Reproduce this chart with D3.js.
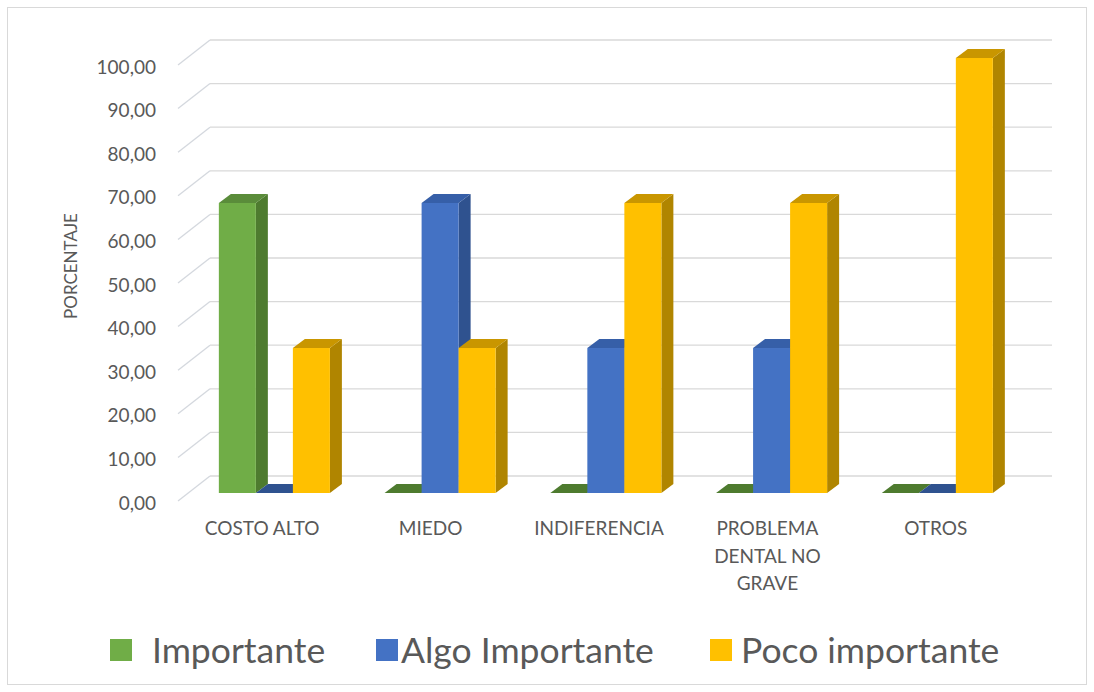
<!DOCTYPE html>
<html>
<head>
<meta charset="utf-8">
<script src="https://cdn.jsdelivr.net/npm/d3@7"></script>
<style>
  html, body { margin: 0; padding: 0; background: #ffffff; }
  svg { display: block; }
  text { font-family: Lato, "Open Sans", sans-serif; fill: #595959; }
</style>
</head>
<body>
<div id="chart"></div>
<script>
// ---- data ----
const categories = ["COSTO ALTO", "MIEDO", "INDIFERENCIA", "PROBLEMA DENTAL NO GRAVE", "OTROS"];
const seriesNames = ["Importante", "Algo Importante", "Poco importante"];
const importante = [66.67, 0, 0, 0, 0];
const algoImportante = [0, 66.67, 33.33, 33.33, 0];
const pocoImportante = [33.33, 33.33, 66.67, 66.67, 100];
const yTicks = [0, 10, 20, 30, 40, 50, 60, 70, 80, 90, 100];
const yTitle = "PORCENTAJE";

// ---- style ----
const W = 1094, H = 692;
const colors = {
  "Importante":      { front: "#70ad47", side: "#4e7b2f", top: "#5a8c3a" },
  "Algo Importante": { front: "#4472c4", side: "#2f528f", top: "#365fa8" },
  "Poco importante": { front: "#ffc000", side: "#b08500", top: "#c99600" }
};
const seriesValues = [importante, algoImportante, pocoImportante];

const svg = d3.select("#chart").append("svg").attr("width", W).attr("height", H);
svg.append("rect").attr("x", 7.5).attr("y", 7.5).attr("width", 1079).attr("height", 677)
  .attr("fill", "#fff").attr("stroke", "#d9d9d9").attr("stroke-width", 1);

// wall geometry (3D oblique)
const wallDX = 32, wallDY = 25;        // back wall offset relative to front plane
const yBack = d3.scaleLinear().domain([0, 100]).range([476, 40]);
const yFront = v => yBack(v) + wallDY;
const xFront = d3.scaleBand().domain(categories).range([178, 1020]);
const backLeft = 210, backRight = 1052;

// gridlines on back wall + side wall
const grid = svg.append("g");
grid.selectAll("line.back").data(yTicks).join("line")
  .attr("x1", backLeft).attr("x2", backRight)
  .attr("y1", d => yBack(d)).attr("y2", d => yBack(d))
  .attr("stroke", "#d9d9d9").attr("stroke-width", 1.3);
grid.selectAll("line.side").data(yTicks).join("line")
  .attr("x1", backLeft - wallDX).attr("x2", backLeft)
  .attr("y1", d => yFront(d)).attr("y2", d => yBack(d))
  .attr("stroke", "#d4d8de").attr("stroke-width", 1.3);

// y tick labels
const fmt = v => d3.format(".2f")(v).replace(".", ",");
svg.append("g").selectAll("text").data(yTicks).join("text")
  .attr("x", 156).attr("y", d => yFront(d) + 1)
  .attr("text-anchor", "end").attr("dominant-baseline", "central")
  .style("font-size", "19px")
  .text(fmt);

// y title
svg.append("text")
  .attr("transform", "translate(77,266) rotate(-90)")
  .attr("text-anchor", "middle")
  .style("font-size", "17px")
  .text(yTitle);

// bars
const xBar = d3.scaleBand().domain(categories).range([191.5, 1020.2])
  .paddingInner(0.33).paddingOuter(0.165);
const xSub = d3.scaleBand().domain(seriesNames).range([0, xBar.bandwidth()]);
const yBar = d3.scaleLinear().domain([0, 100]).range([493, 58]);
const bDX = 12, bDY = -9;

const barData = [];
categories.forEach((c, i) => {
  seriesNames.forEach((s, j) => {
    barData.push({ cat: c, series: s, value: seriesValues[j][i] });
  });
});

const bars = svg.append("g").selectAll("g").data(barData).join("g");
bars.each(function(d) {
  const g = d3.select(this);
  const x0 = xBar(d.cat) + xSub(d.series);
  const x1 = x0 + xSub.bandwidth();
  const yt = yBar(d.value), yb = yBar(0);
  const col = colors[d.series];
  if (d.value > 0) {
    g.append("path")
      .attr("d", `M${x1},${yb} L${x1 + bDX},${yb + bDY} L${x1 + bDX},${yt + bDY} L${x1},${yt} Z`)
      .attr("fill", col.side);
    g.append("rect").attr("x", x0).attr("y", yt).attr("width", x1 - x0).attr("height", yb - yt)
      .attr("fill", col.front);
  }
  g.append("path")
    .attr("d", `M${x0},${yt} L${x1},${yt} L${x1 + bDX},${yt + bDY} L${x0 + bDX},${yt + bDY} Z`)
    .attr("fill", d.value > 0 ? col.top : col.side);
});

// category labels (wrapped)
const catG = svg.append("g");
const lineH = 27.5, maxW = 135;
categories.forEach(c => {
  const cx = xFront(c) + xFront.bandwidth() / 2;
  const t = catG.append("text")
    .attr("x", cx).attr("y", 535)
    .attr("text-anchor", "middle").style("font-size", "19px");
  const words = c.split(" ");
  let line = [];
  let tspan = t.append("tspan").attr("x", cx).attr("dy", 0);
  words.forEach(w => {
    line.push(w);
    tspan.text(line.join(" "));
    if (tspan.node().getComputedTextLength() > maxW && line.length > 1) {
      line.pop();
      tspan.text(line.join(" "));
      line = [w];
      tspan = t.append("tspan").attr("x", cx).attr("dy", lineH).text(w);
    }
  });
});

// legend
const legendLayout = [
  { mx: 110, tx: 152 },
  { mx: 376, tx: 401 },
  { mx: 710, tx: 741 }
];
const leg = svg.append("g").selectAll("g").data(seriesNames).join("g");
leg.append("rect")
  .attr("x", (d, i) => legendLayout[i].mx).attr("y", 639)
  .attr("width", 22).attr("height", 22)
  .attr("fill", d => colors[d].front);
leg.append("text")
  .attr("x", (d, i) => legendLayout[i].tx).attr("y", 663)
  .style("font-size", "35.5px")
  .text(d => d);
</script>
</body>
</html>
